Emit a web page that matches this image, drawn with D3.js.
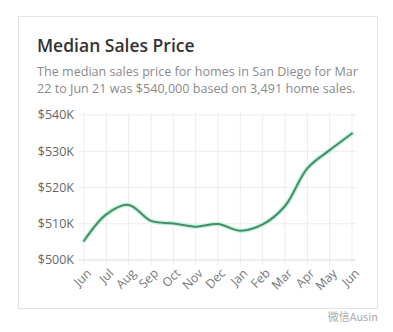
<!DOCTYPE html>
<html lang="en">
  <head>
    <meta charset="UTF-8" />
    <title>Median Sales Price</title>
    <script src="https://cdn.jsdelivr.net/npm/d3@7/dist/d3.min.js"></script>
    <style>
      body { margin: 0; background: #fff; }
      svg { display: block; font-family: 'Open Sans', 'Liberation Sans', sans-serif; }
    </style>
  </head>
  <body>
    <div id='app'></div>

    <script>
  // data
  const months = ['Jun', 'Jul', 'Aug', 'Sep', 'Oct', 'Nov', 'Dec', 'Jan', 'Feb', 'Mar', 'Apr', 'May', 'Jun']
  const prices = [505.3, 512.6, 515.2, 510.8, 510.1, 509.2, 509.9, 508.1, 509.8, 514.9, 525.3, 530.3, 534.9]
  const yTicks = [500, 510, 520, 530, 540]

  const width = 393
  const height = 332
  const margin = { top: 115, right: 41, bottom: 72, left: 84 }

  const svg = d3.select('#app').append('svg')
    .attr('width', width)
    .attr('height', height)

  // card
  svg.append('rect')
    .attr('x', 18.5).attr('y', 16.5)
    .attr('width', 359).attr('height', 292)
    .attr('fill', '#fff')
    .attr('stroke', '#e4e4e4')

  svg.append('text')
    .attr('x', 37).attr('y', 52)
    .attr('font-size', 17.5)
    .attr('font-weight', 600)
    .attr('fill', '#333')
    .text('Median Sales Price')

  const sub = svg.append('text')
    .attr('font-size', 12.6)
    .attr('fill', '#8a8a8a')
  sub.append('tspan').attr('x', 37).attr('y', 76)
    .text('The median sales price for homes in San Diego for Mar')
  sub.append('tspan').attr('x', 37).attr('y', 93)
    .text('22 to Jun 21 was $540,000 based on 3,491 home sales.')

  const x = d3.scalePoint()
    .domain(d3.range(months.length))
    .range([margin.left, width - margin.right])

  const y = d3.scaleLinear()
    .domain([500, 540])
    .range([height - margin.bottom, margin.top])

  // grid
  const grid = svg.append('g')
  grid.selectAll('.v').data(d3.range(months.length)).join('line')
    .attr('x1', d => x(d)).attr('x2', d => x(d))
    .attr('y1', y(540) - 2).attr('y2', y(500) + 5)
    .attr('stroke', '#ececec')
  grid.selectAll('.h').data(yTicks).join('line')
    .attr('x1', margin.left - 5).attr('x2', width - margin.right + 4)
    .attr('y1', d => y(d)).attr('y2', d => y(d))
    .attr('stroke', d => d === 500 ? '#dadada' : '#ececec')

  // y axis labels
  svg.append('g').selectAll('text').data(yTicks).join('text')
    .attr('x', margin.left - 10)
    .attr('y', d => y(d))
    .attr('dy', '0.35em')
    .attr('text-anchor', 'end')
    .attr('font-size', 12.5)
    .attr('fill', '#666')
    .text(d => '$' + d + 'K')

  // x axis labels, rotated
  svg.append('g').selectAll('text').data(months).join('text')
    .attr('transform', (d, i) => `translate(${x(i) + 5},${y(500) + 11}) rotate(-45)`)
    .attr('text-anchor', 'end')
    .attr('dy', '0.35em')
    .attr('font-size', 12.3)
    .attr('fill', '#777')
    .text(d => d)

  const line = d3.line()
    .x((d, i) => x(i))
    .y(d => y(d))
    .curve(d3.curveCatmullRom.alpha(0.5))

  svg.append('path')
    .datum(prices)
    .attr('d', line)
    .attr('fill', 'none')
    .attr('stroke', '#bff5d9')
    .attr('stroke-width', 4.5)
    .attr('stroke-linecap', 'round')

  svg.append('path')
    .datum(prices)
    .attr('d', line)
    .attr('fill', 'none')
    .attr('stroke', '#4a8b6b')
    .attr('stroke-width', 2)
    .attr('stroke-linecap', 'round')

  // watermark
  svg.append('text')
    .attr('x', 378).attr('y', 321)
    .attr('text-anchor', 'end')
    .attr('font-size', 11)
    .attr('fill', '#aaa')
    .attr('font-family', "'Noto Sans CJK SC', sans-serif")
    .text('微信Ausin')
    </script>
  </body>
</html>
